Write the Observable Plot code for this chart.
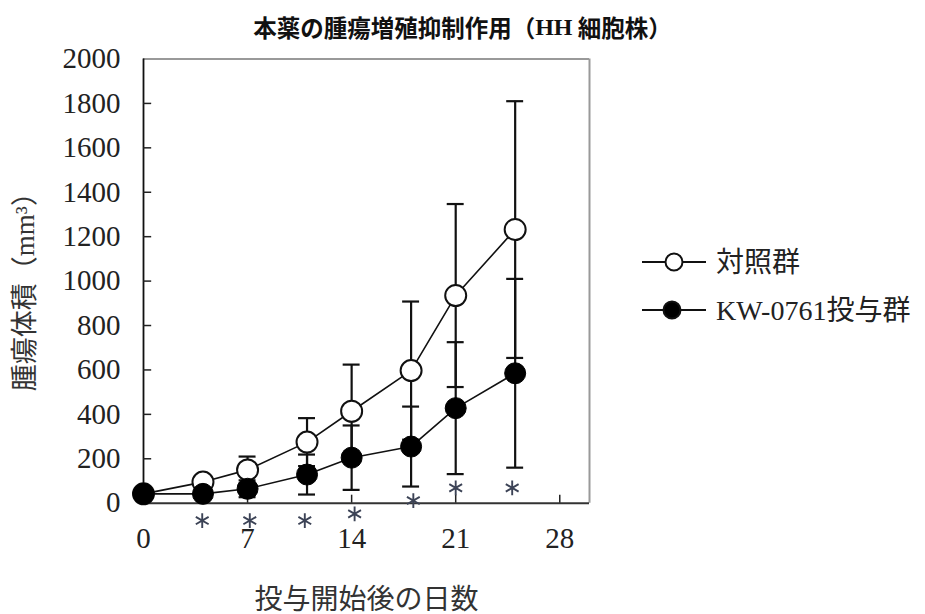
<!DOCTYPE html>
<html>
<head>
<meta charset="utf-8">
<script src="https://cdn.jsdelivr.net/npm/d3@7"></script>
<script src="https://cdn.jsdelivr.net/npm/@observablehq/plot@0.6"></script>
<style>
  html, body { margin: 0; padding: 0; background: #fff; }
  #wrap { position: relative; width: 925px; height: 614px; overflow: hidden; }
  #title { height: 40px; display: flex; align-items: center; justify-content: center;
           box-sizing: border-box; padding-top: 14px;
           font-family: "Noto Sans CJK JP", sans-serif; font-weight: bold; font-size: 23.5px; color: #111; }
  #title .lat { font-family: "Liberation Serif", serif; font-weight: bold; font-size: 24px; }
  #chart svg { overflow: visible; }
  #legend { position: absolute; left: 0; top: 0; }
  #legend text { font-family: "Liberation Serif", "Noto Sans CJK JP", serif; font-size: 28px; fill: #222; }
</style>
</head>
<body>
<div id="wrap">
  <div id="title">本薬の腫瘍増殖抑制作用（<span class="lat">HH</span>&nbsp;細胞株）</div>
  <div id="chart"></div>
  <svg id="legend" width="925" height="614"></svg>
</div>
<script>
// ---- data ----
const days = [0, 4, 7, 11, 14, 18, 21, 25];
const controlMean = [42, 95, 150, 275, 414, 597, 935, 1232];
const controlSD   = [0, 20, 60, 108, 210, 311, 412, 578];
const kwMean = [42, 42, 65, 129, 205, 255, 428, 585];
const kwSD   = [0, 12, 38, 90, 145, 180, 297, 425];
const seriesNames = ["対照群", "KW-0761投与群"];
const sigX = [3.95, 7.15, 10.85, 14.2, 18.15, 21, 24.8];
const sigY = [-78, -78, -78, -48, 12, 69, 69];
const xTicks = [0, 7, 14, 21, 28];
const yTicks = [0, 200, 400, 600, 800, 1000, 1200, 1400, 1600, 1800, 2000];
const xLabel = "投与開始後の日数";
const yLabel = "腫瘍体積（mm³）";

const rows = [];
days.forEach((d, i) => {
  rows.push({series: seriesNames[0], day: d, mean: controlMean[i], sd: controlSD[i]});
  rows.push({series: seriesNames[1], day: d, mean: kwMean[i], sd: kwSD[i]});
});
const control = rows.filter(r => r.series === seriesNames[0]);
const kw = rows.filter(r => r.series === seriesNames[1]);
const bars = rows.filter(r => r.sd > 0);
const sig = sigX.map((x, i) => ({x, y: sigY[i]}));
const capHalf = 0.57;

const font = "'Liberation Serif', 'Noto Sans CJK JP', serif";

const chart = Plot.plot({
  width: 925,
  height: 574,
  marginTop: 18.5,
  marginBottom: 111.3,
  marginLeft: 143,
  marginRight: 336,
  style: {fontFamily: font, color: "#222", background: "#fff", overflow: "visible"},
  x: {domain: [0, 30]},
  y: {domain: [0, 2000]},
  marks: [
    // frame
    Plot.ruleY([2000], {stroke: "#999", strokeWidth: 2}),
    Plot.ruleX([30], {stroke: "#999", strokeWidth: 2}),
    Plot.ruleY([0], {stroke: "#333", strokeWidth: 2}),
    Plot.ruleX([0], {stroke: "#111", strokeWidth: 1.8}),
    // inward ticks
    Plot.ruleY(yTicks.filter(d => d > 0 && d < 2000), {y: d => d, x1: 0, x2: 0.55, stroke: "#222", strokeWidth: 1.5}),
    Plot.ruleX(xTicks.filter(d => d > 0), {x: d => d, y1: 0, y2: 36, stroke: "#222", strokeWidth: 1.5}),
    // axes
    Plot.axisY({ticks: yTicks, tickFormat: d3.format("d"), tickSize: 0, tickPadding: 23, fontSize: 29, label: null}),
    Plot.axisX({ticks: xTicks, tickFormat: d3.format("d"), tickSize: 0, tickPadding: 24, fontSize: 29, label: null}),
    Plot.text([yLabel], {frameAnchor: "left", textAnchor: "middle", text: d => d, rotate: -90, dx: -118, dy: 4, fontSize: 27, fill: "#333"}),
    Plot.text([xLabel], {frameAnchor: "bottom", text: d => d, dy: 106, fontSize: 28, fill: "#333"}),
    // error bars
    Plot.ruleX(bars, {x: "day", y1: d => d.mean - d.sd, y2: d => d.mean + d.sd, stroke: "#111", strokeWidth: 2.2}),
    Plot.ruleY(bars, {y: d => d.mean + d.sd, x1: d => d.day - capHalf, x2: d => d.day + capHalf, stroke: "#111", strokeWidth: 2.2}),
    Plot.ruleY(bars, {y: d => d.mean - d.sd, x1: d => d.day - capHalf, x2: d => d.day + capHalf, stroke: "#111", strokeWidth: 2.2}),
    // lines
    Plot.line(rows, {x: "day", y: "mean", z: "series", stroke: "#111", strokeWidth: 1.6}),
    // points
    Plot.dot(control, {x: "day", y: "mean", r: 10.5, fill: "#fff", stroke: "#111", strokeWidth: 2}),
    Plot.dot(kw, {x: "day", y: "mean", r: 10.5, fill: "#000", stroke: "#000", strokeWidth: 1}),
    // significance marks
    Plot.dot(sig, {x: "x", y: "y", symbol: "asterisk", r: 7, stroke: "#3c4356", strokeWidth: 1.9})
  ]
});
document.getElementById("chart").appendChild(chart);

// legend (drawn with d3, outside the plot frame)
const leg = d3.select("#legend");
const legRows = [
  {name: seriesNames[0], y: 262, cx: 674, fill: "#fff"},
  {name: seriesNames[1], y: 310, cx: 672, fill: "#000"}
];
legRows.forEach(r => {
  leg.append("line").attr("x1", 642).attr("x2", 706).attr("y1", r.y).attr("y2", r.y)
     .attr("stroke", "#111").attr("stroke-width", 2);
  leg.append("circle").attr("cx", r.cx).attr("cy", r.y).attr("r", 8.5)
     .attr("fill", r.fill).attr("stroke", "#111").attr("stroke-width", 2);
  leg.append("text").attr("x", 716).attr("y", r.y).attr("dy", "0.35em").text(r.name);
});
</script>
</body>
</html>
